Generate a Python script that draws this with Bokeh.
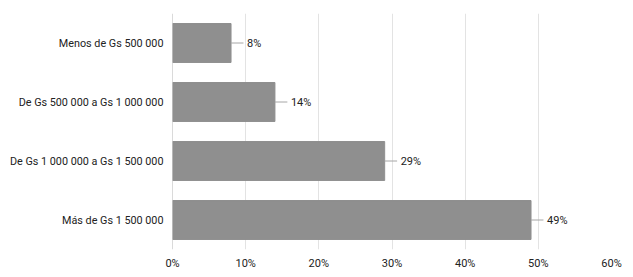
from bokeh.plotting import figure
from bokeh.models import (Range1d, FactorRange, PrintfTickFormatter, FixedTicker,
                          ColumnDataSource, Span)
from bokeh.core.properties import value
from bokeh.embed import file_html
from bokeh.resources import INLINE

categories = ["Menos de Gs 500 000", "De Gs 500 000 a Gs 1 000 000",
              "De Gs 1 000 000 a Gs 1 500 000", "Más de Gs 1 500 000"]
values = [8, 14, 29, 49]
labels = ["8%", "14%", "29%", "49%"]
ticks = [0, 10, 20, 30, 40, 50, 60]

src = ColumnDataSource(dict(cat=categories, val=values, lab=labels,
                            lead=[v + 1.7 for v in values]))

p = figure(width=633, height=277, output_backend="svg", toolbar_location=None,
           y_range=FactorRange(*reversed(categories), range_padding=0),
           x_range=Range1d(0, 60))
p.min_border_left = 172
p.min_border_right = 22
p.min_border_top = 13
p.min_border_bottom = 28
p.outline_line_color = None
p.background_fill_color = "white"
p.border_fill_color = "white"

p.hbar(y="cat", right="val", left=0, height=0.66, color="#8f8f8f", source=src)

p.segment(x0="val", y0="cat", x1="lead", y1="cat", source=src,
          line_color="#a6a6a6", line_width=1)
p.text(x="val", y="cat", text="lab", x_offset=16, source=src,
       text_baseline="middle", text_align="left",
       text_font=value("Roboto"), text_font_size="11px", text_color="#222222")

p.xaxis.ticker = FixedTicker(ticks=ticks)
p.xaxis.formatter = PrintfTickFormatter(format="%d%%")
p.xaxis.axis_line_color = None
p.xaxis.major_tick_line_color = None
p.xaxis.minor_tick_line_color = None
p.xaxis.major_tick_out = 0
p.xaxis.major_tick_in = 0
p.xaxis.major_label_text_font = "Roboto"
p.xaxis.major_label_text_font_size = "11px"
p.xaxis.major_label_text_color = "#222222"
p.xaxis.major_label_standoff = 7

p.yaxis.axis_line_color = None
p.yaxis.major_tick_line_color = None
p.yaxis.minor_tick_line_color = None
p.yaxis.major_tick_out = 0
p.yaxis.major_tick_in = 0
p.yaxis.major_label_text_font = "Roboto"
p.yaxis.major_label_text_font_size = "10.8px"
p.yaxis.major_label_text_color = "#222222"
p.yaxis.major_label_standoff = 9

p.xgrid.grid_line_color = "#e3e3e3"
p.ygrid.grid_line_color = None

p.add_layout(Span(location=0, dimension="height", line_color="#b5b5b5", line_width=1))

open("out.html", "w").write(file_html(p, INLINE))
